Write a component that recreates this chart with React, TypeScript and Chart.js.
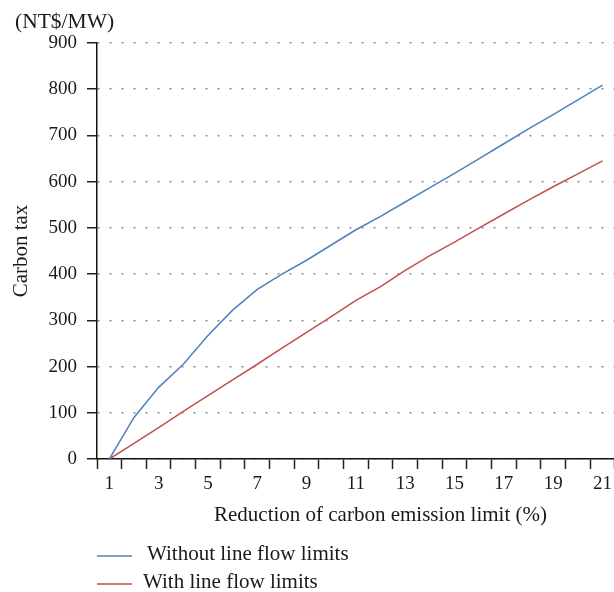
import React, { useEffect, useRef } from 'react';
import { Chart, registerables } from 'chart.js';

Chart.register(...registerables);

const categories = ['1', '2', '3', '4', '5', '6', '7', '8', '9', '10', '11', '12', '13', '14', '15', '16', '17', '18', '19', '20', '21'];
const withoutLineFlowLimits = [0, 90, 155, 205, 267, 322, 367, 400, 430, 463, 496, 525, 556, 587, 618, 650, 682, 714, 745, 777, 809];
const withLineFlowLimits = [0, 34, 68, 103, 137, 171, 205, 240, 274, 308, 343, 373, 408, 440, 469, 500, 530, 560, 589, 617, 645];
const seriesLabels = ['Without line flow limits', 'With line flow limits'];
const seriesColors = ['#4F81BD', '#C0504D'];
const yMin = 0;
const yMax = 900;
const yStep = 100;
const yUnit = '(NT$/MW)';
const yTitle = 'Carbon tax';
const xTitle = 'Reduction of carbon emission limit (%)';

const FONT = '"Liberation Serif", "Times New Roman", serif';
const TEXT = '#1a1a1a';

const overlayPlugin = {
  id: 'overlay',
  afterDraw(chart: any) {
    const ctx = chart.ctx;
    ctx.save();
    ctx.fillStyle = TEXT;
    ctx.font = `21.5px ${FONT}`;
    ctx.textBaseline = 'middle';
    ctx.textAlign = 'left';
    ctx.fillText(yUnit, 15, 22);
    ctx.font = `21px ${FONT}`;
    ctx.textAlign = 'center';
    ctx.fillText(xTitle, 380.5, 515);
    ctx.textAlign = 'left';
    const rows = [
      { y: 554, lineY: 556, textX: 147 },
      { y: 582, lineY: 584, textX: 143 },
    ];
    rows.forEach((r, i) => {
      ctx.strokeStyle = seriesColors[i];
      ctx.lineWidth = 1.5;
      ctx.beginPath();
      ctx.moveTo(97, r.lineY);
      ctx.lineTo(132, r.lineY);
      ctx.stroke();
      ctx.fillText(seriesLabels[i], r.textX, r.y);
    });
    ctx.restore();
  },
};

export default function App() {
  const ref = useRef<HTMLCanvasElement | null>(null);
  useEffect(() => {
    if (!ref.current) return;
    const chart = new Chart(ref.current, {
      type: 'line',
      data: {
        labels: categories,
        datasets: [
          {
            label: seriesLabels[0],
            data: withoutLineFlowLimits,
            borderColor: seriesColors[0],
            backgroundColor: seriesColors[0],
            borderWidth: 1.5,
            pointRadius: 0,
            tension: 0,
          },
          {
            label: seriesLabels[1],
            data: withLineFlowLimits,
            borderColor: seriesColors[1],
            backgroundColor: seriesColors[1],
            borderWidth: 1.5,
            pointRadius: 0,
            tension: 0,
          },
        ],
      },
      options: {
        animation: false,
        responsive: false,
        devicePixelRatio: 1,
        layout: { padding: { top: 43, left: 0, right: 0, bottom: 58 } },
        plugins: {
          legend: { display: false },
          tooltip: { enabled: false },
        },
        scales: {
          x: {
            type: 'category',
            offset: true,
            grid: {
              display: true,
              offset: true,
              drawOnChartArea: false,
              drawTicks: true,
              tickLength: 10,
              tickColor: '#222',
              tickWidth: 1.5,
            },
            border: { display: true, color: '#111', width: 1.5 },
            ticks: {
              autoSkip: false,
              maxRotation: 0,
              padding: 4,
              color: TEXT,
              font: { family: FONT, size: 19 },
              callback: (_v: any, i: number) => (i % 2 === 0 ? categories[i] : ''),
            },
            title: { display: false },
            afterFit: (s: any) => {
              s.height = 75;
            },
          },
          y: {
            min: yMin,
            max: yMax,
            grid: {
              color: '#8a8a8a',
              lineWidth: 1.5,
              drawTicks: true,
              tickLength: 10,
              tickColor: '#222',
              tickWidth: 1.5,
            },
            border: { display: true, color: '#111', width: 1.5, dash: [2, 10], dashOffset: -12 },
            ticks: {
              stepSize: yStep,
              padding: 10,
              color: TEXT,
              font: { family: FONT, size: 19 },
            },
            title: {
              display: true,
              text: yTitle,
              color: TEXT,
              font: { family: FONT, size: 21 },
              padding: { top: 9, bottom: 0 },
            },
            afterFit: (s: any) => {
              s.width = 97;
            },
          },
        },
      },
      plugins: [overlayPlugin],
    } as any);
    return () => chart.destroy();
  }, []);
  return (
    <div style={{ position: 'absolute', left: 0, top: 0, width: 614, height: 592, overflow: 'hidden', background: '#fff' }}>
      <canvas ref={ref} width={616} height={592} style={{ display: 'block' }} />
    </div>
  );
}
